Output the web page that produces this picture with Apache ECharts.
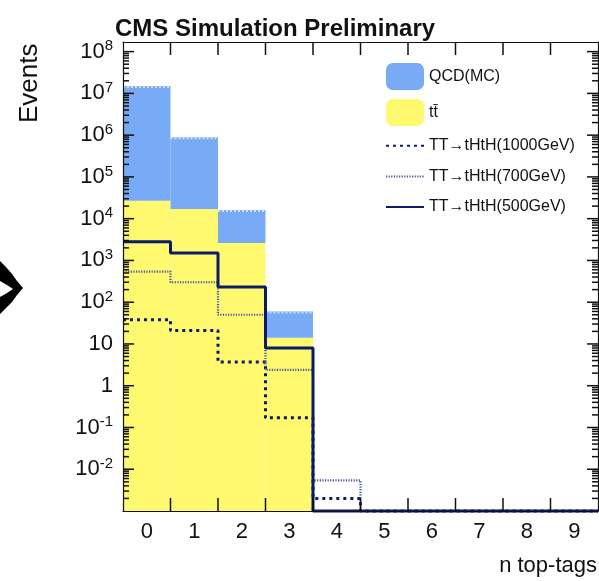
<!DOCTYPE html>
<html>
<head>
<meta charset="utf-8">
<script src="https://cdn.jsdelivr.net/npm/echarts@6/dist/echarts.min.js"></script>
<style>
html,body{margin:0;padding:0;background:#fff;}
#c{width:599px;height:581px;}
</style>
</head>
<body>
<div id="c"></div>
<script>
// ---- data ----
const bins = ['0','1','2','3','4','5','6','7','8','9'];
const ttbar   = [2.7e4, 1.7e4, 2.6e3, 14, 0, 0, 0, 0, 0, 0];
const qcd     = [1.5e7, 8.7e5, 1.35e4, 46, 0, 0, 0, 0, 0, 0];
const sig1000 = [38, 21, 3.7, 0.17, 0.002, 0, 0, 0, 0, 0];
const sig700  = [540, 300, 50, 2.4, 0.0054, 0, 0, 0, 0, 0];
const sig500  = [2800, 1500, 230, 8, 0, 0, 0, 0, 0, 0];
const yMin = 0.001, yMax = 1.7e8;

// axis tick positions (ROOT style: decades + 2..9 minors, bin edges on x)
const yMajorTicks = [1e-2, 1e-1, 1, 10, 1e2, 1e3, 1e4, 1e5, 1e6, 1e7, 1e8];
const yMinorTicks = [];
for (let k = -3; k <= 8; k++) for (let m = 2; m <= 9; m++) {
  const v = m * Math.pow(10, k);
  if (v > yMin && v < yMax) yMinorTicks.push(v);
}
const xTickEdges = [1, 2, 3, 4, 5, 6, 7, 8, 9];

const FONT = 'Liberation Sans, Arial, Helvetica, sans-serif';
const C_QCD = '#79aaf5', C_TT = '#fef96e', C_NAVY = '#0b1a6c', C_700 = '#4453a6', C_AX = '#111111';

const ttData = [], qcdData = [];
bins.forEach((b, i) => {
  if (ttbar[i] > 0) ttData.push([i, ttbar[i]]);
  if (qcd[i] > 0) qcdData.push([i, ttbar[i] + qcd[i], ttbar[i]]);
});
function stepData(arr){
  const d = arr.map((v, i) => [i, v > 0 ? v : yMin]);
  d.push([arr.length, arr[arr.length-1] > 0 ? arr[arr.length-1] : yMin]);
  return d;
}
const tickData = [];
yMajorTicks.forEach(v => tickData.push([v, 1]));
yMinorTicks.forEach(v => tickData.push([v, 0]));
xTickEdges.forEach(e => tickData.push([e, 2]));

function barRender(params, api){
  const x = api.value(0), top = api.value(1);
  const base = api.value(2) > 0 ? api.value(2) : yMin;
  const p1 = api.coord([x, top]);
  const p2 = api.coord([x + 1, base]);
  const children = [{
    type: 'rect',
    shape: {x: p1[0], y: p1[1], width: p2[0]-p1[0], height: p2[1]-p1[1]},
    style: {fill: api.visual('color')}
  }];
  if (params.seriesName === 'QCD(MC)') {
    children.push({type:'line', shape:{x1:p1[0], y1:p1[1]+1, x2:p2[0], y2:p1[1]+1},
      style:{stroke:'#d3dcee', lineWidth:2, lineDash:[2,2]}});
  }
  return {type:'group', children};
}

function tickRender(params, api){
  const v = api.value(0), kind = api.value(1);
  const st = {stroke: C_AX, lineWidth: 1.5};
  if (kind === 2) {
    const b = api.coord([v, yMin]), t = api.coord([v, yMax]);
    const x = b[0];
    return {type:'group', children:[
      {type:'line', shape:{x1:x, y1:b[1], x2:x, y2:b[1]-13}, style:st},
      {type:'line', shape:{x1:x, y1:t[1], x2:x, y2:t[1]+13}, style:st}
    ]};
  }
  const l = api.coord([0, v]), r = api.coord([10, v]);
  const y = l[1];
  const len = kind === 1 ? 11 : 6;
  return {type:'group', children:[
    {type:'line', shape:{x1:l[0], y1:y, x2:l[0]+len, y2:y}, style:st},
    {type:'line', shape:{x1:r[0]-len, y1:y, x2:r[0], y2:y}, style:st}
  ]};
}

function yLabel(v){
  const lg = Math.log10(v);
  const e = Math.round(lg);
  if (Math.abs(lg - e) > 1e-6 || e < -2 || e > 8) return '';
  if (e === 0) return '{b|1}';
  if (e === 1) return '{b|10}';
  return '{b|10}{s|' + e + '}';
}

function ls(){ return {color: C_AX, width: 1.2}; }
const hideSym = {opacity: 0};

const option = {
  animation: false,
  textStyle: {fontFamily: FONT},
  title: {
    text: 'CMS Simulation Preliminary',
    left: 110, top: 12,
    textStyle: {fontFamily: FONT, fontSize: 24, fontWeight: 'bold', color: '#111'}
  },
  grid: {left: 123, top: 42, width: 475, height: 469},
  legend: {
    orient: 'vertical', left: 385, top: 63,
    itemWidth: 38, itemHeight: 27, itemGap: 9, padding: 0,
    textStyle: {fontFamily: FONT, fontSize: 16, color: '#111'},
    data: [
      {name:'QCD(MC)', icon:'roundRect'},
      {name:'tt\u0304', icon:'roundRect'},
      {name:'TT\u2192tHtH(1000GeV)', itemStyle: hideSym},
      {name:'TT\u2192tHtH(700GeV)', itemStyle: hideSym},
      {name:'TT\u2192tHtH(500GeV)', itemStyle: hideSym}
    ]
  },
  xAxis: [
    {
      type: 'category', data: bins, position: 'bottom', boundaryGap: true, z: 5,
      axisLine: {show: true, lineStyle: ls()},
      axisTick: {show: false},
      axisLabel: {fontSize: 22, color: '#111', margin: 10, fontFamily: FONT},
      splitLine: {show: false}
    },
    {
      type: 'value', position: 'top', min: 0, max: 10, interval: 1, z: 5,
      axisLine: {show: true, lineStyle: ls()},
      axisTick: {show: false},
      axisLabel: {show: false},
      splitLine: {show: false}
    }
  ],
  yAxis: [
    {
      type: 'log', logBase: 10, min: yMin, max: yMax, interval: 1, position: 'left', z: 5,
      axisLine: {show: true, lineStyle: ls()},
      axisTick: {show: false},
      axisLabel: {
        margin: 10, color: '#111', formatter: yLabel,
        rich: {
          b: {fontSize: 22, fontFamily: FONT, color: '#111', lineHeight: 26},
          s: {fontSize: 15, fontFamily: FONT, color: '#111', verticalAlign: 'top', lineHeight: 14}
        }
      },
      splitLine: {show: false}
    },
    {
      type: 'log', logBase: 10, min: yMin, max: yMax, interval: 1, position: 'right', z: 5,
      axisLine: {show: true, lineStyle: ls()},
      axisTick: {show: false},
      axisLabel: {show: false},
      splitLine: {show: false}
    }
  ],
  graphic: [
    {type:'text', x: 17, y: 123, rotation: Math.PI/2, z: 20,
      style:{text:'Events', font:'26px ' + FONT, fill:'#111', textAlign:'left', textVerticalAlign:'top'}},
    {type:'text', x: 597, y: 566, z: 20,
      style:{text:'n top-tags', font:'22px ' + FONT, fill:'#111', textAlign:'right', textVerticalAlign:'middle'}},
    {type:'polygon', z: 20,
      shape:{points:[[0,261],[6,267],[12,274],[17,281],[23,288],[17,295],[12,302],[6,308],[0,314],[0,297],[7,293],[13,289],[7,285],[0,281]]},
      style:{fill:'#000'}}
  ],
  series: [
    {name:'tt\u0304', type:'custom', xAxisIndex:1, yAxisIndex:0, renderItem: barRender,
      itemStyle:{color:C_TT}, encode:{x:0, y:1}, data: ttData, z: 1},
    {name:'QCD(MC)', type:'custom', xAxisIndex:1, yAxisIndex:0, renderItem: barRender,
      itemStyle:{color:C_QCD}, encode:{x:0, y:1}, data: qcdData, z: 1},
    {name:'TT\u2192tHtH(1000GeV)', type:'line', xAxisIndex:1, yAxisIndex:0, step:'end',
      showSymbol:false, symbol:'none', clip:false, z: 3,
      itemStyle:{color:C_NAVY},
      lineStyle:{color:C_NAVY, width:3, type:[3,4]}, data: stepData(sig1000)},
    {name:'TT\u2192tHtH(700GeV)', type:'line', xAxisIndex:1, yAxisIndex:0, step:'end',
      showSymbol:false, symbol:'none', clip:false, z: 3,
      itemStyle:{color:C_700},
      lineStyle:{color:C_700, width:2.2, type:[1.2,1.4]}, data: stepData(sig700)},
    {name:'TT\u2192tHtH(500GeV)', type:'line', xAxisIndex:1, yAxisIndex:0, step:'end',
      showSymbol:false, symbol:'none', clip:false, z: 4,
      itemStyle:{color:C_NAVY},
      lineStyle:{color:C_NAVY, width:3, type:'solid'}, data: stepData(sig500)},
    {name:'axis-ticks', type:'custom', xAxisIndex:1, yAxisIndex:0, renderItem: tickRender,
      encode:{x:-1, y:-1}, data: tickData, z: 8, silent: true, tooltip:{show:false}}
  ]
};
const chart = echarts.init(document.getElementById('c'), null, {renderer:'canvas'});
chart.setOption(option);
</script>
</body>
</html>
